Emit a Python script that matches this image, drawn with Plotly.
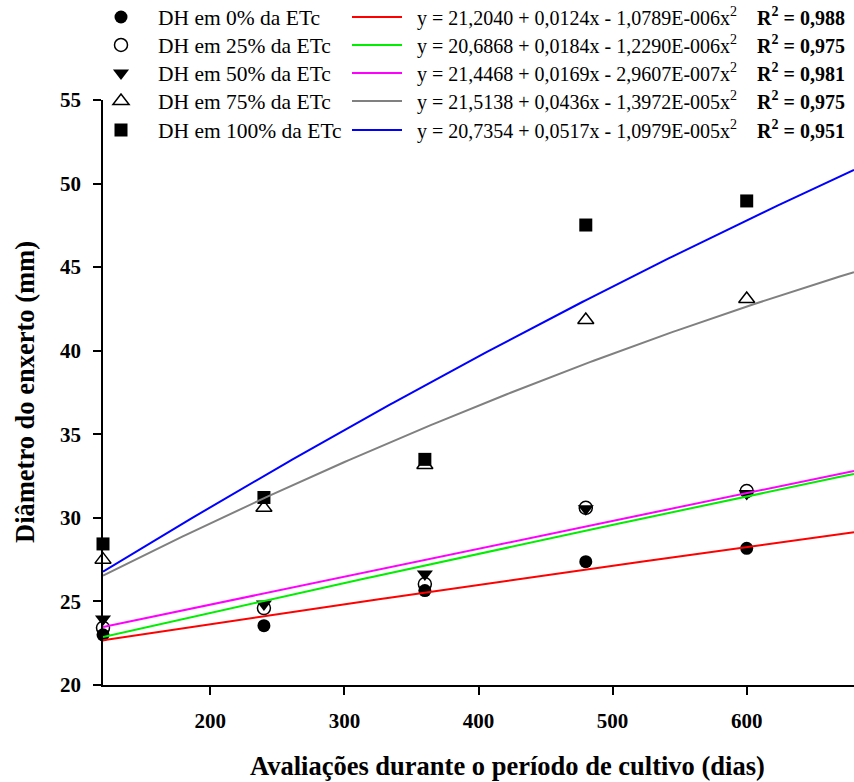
import numpy as np
import plotly.graph_objects as go

# ---- data ----
dias = [120, 240, 360, 480, 600]
series_names = ["DH em 0% da ETc", "DH em 25% da ETc", "DH em 50% da ETc",
                "DH em 75% da ETc", "DH em 100% da ETc"]
dh_0 = [23.00, 23.55, 25.65, 27.38, 28.18]
dh_25 = [23.42, 24.60, 26.04, 30.60, 31.60]
dh_50 = [23.95, 24.85, 26.64, 30.55, 31.45]
dh_75 = [27.50, 30.60, 33.16, 41.84, 43.09]
dh_100 = [28.44, 31.22, 33.50, 47.52, 48.96]
series_values = [dh_0, dh_25, dh_50, dh_75, dh_100]

# fitted regression coefficients printed on the chart (y = a + b x + c x^2)
coef_a = [21.2040, 20.6868, 21.4468, 21.5138, 20.7354]
coef_b = [0.0124, 0.0184, 0.0169, 0.0436, 0.0517]
coef_c = [-1.0789e-6, -1.2290e-6, -2.9607e-7, -1.3972e-5, -1.0979e-5]
eq_labels = [
    "y = 21,2040 + 0,0124x - 1,0789E-006x<sup>2</sup>",
    "y = 20,6868 + 0,0184x - 1,2290E-006x<sup>2</sup>",
    "y = 21,4468 + 0,0169x - 2,9607E-007x<sup>2</sup>",
    "y = 21,5138 + 0,0436x - 1,3972E-005x<sup>2</sup>",
    "y = 20,7354 + 0,0517x - 1,0979E-005x<sup>2</sup>",
]
r2_labels = ["0,988", "0,975", "0,981", "0,975", "0,951"]
x_ticks = [200, 300, 400, 500, 600]
y_ticks = [20, 25, 30, 35, 40, 45, 50, 55]
x_range = [120, 680]
y_range = [20, 55]

# ---- style ----
marker_symbols = ["circle", "circle-open", "triangle-down", "triangle-up-open", "square"]
line_colors = ["#ff0000", "#00ee00", "#ff00ff", "#808080", "#0000ff"]
FONT = "Liberation Serif"
legend_rows_px = [17, 45, 73, 101, 130]   # vertical centre of each legend row (pixels)

W, H = 854, 782
ML, MR, MT, MB = 103, 0, 100, 97
PW = W - ML - MR
PH = H - MT - MB


def px_to_paper_x(px):
    return (px - ML) / PW


def px_to_paper_y(py):
    return (H - MB - py) / PH


def legend_id(k):
    return "legend" if k == 1 else "legend%d" % k


fig = go.Figure()
legend_layouts = {}

for i, (name, vals) in enumerate(zip(series_names, series_values)):
    sym = marker_symbols[i]
    is_open = sym.endswith("open")
    lid = legend_id(i + 1)
    fig.add_trace(go.Scatter(
        x=dias, y=vals, mode="markers", name=name,
        legend=lid, showlegend=True,
        marker=dict(symbol=sym, size=13 if "triangle" not in sym else 14,
                    color="black",
                    line=dict(color="black", width=1.5 if is_open else 0)),
        cliponaxis=False,
    ))
    legend_layouts[lid] = dict(
        x=px_to_paper_x(84), y=px_to_paper_y(legend_rows_px[i]),
        xanchor="left", yanchor="middle",
        font=dict(family=FONT, size=21.5, color="black"), itemwidth=64,
        bgcolor="rgba(0,0,0,0)", borderwidth=0,
    )

xfit = np.linspace(x_range[0], x_range[1], 200)
for i in range(5):
    yfit = coef_a[i] + coef_b[i] * xfit + coef_c[i] * xfit ** 2
    lid = legend_id(i + 6)
    fig.add_trace(go.Scatter(
        x=xfit, y=yfit, mode="lines",
        name="\u00a0\u00a0" + eq_labels[i] + "\u00a0\u00a0\u00a0\u00a0<b>R<sup>2</sup> = " + r2_labels[i] + "</b>",
        legend=lid, showlegend=True,
        line=dict(color=line_colors[i], width=2),
    ))
    legend_layouts[lid] = dict(
        x=px_to_paper_x(347), y=px_to_paper_y(legend_rows_px[i]),
        xanchor="left", yanchor="middle",
        font=dict(family=FONT, size=20, color="black"), itemwidth=50,
        bgcolor="rgba(0,0,0,0)", borderwidth=0,
    )

axis_common = dict(
    showline=True, linecolor="black", linewidth=1.5,
    ticks="outside", ticklen=8, tickwidth=1.5, tickcolor="black",
    showgrid=False, zeroline=False,
    tickfont=dict(family=FONT, size=21, color="black", weight="bold"),
)

fig.update_layout(
    width=W, height=H,
    showlegend=True,
    margin=dict(l=ML, r=MR, t=MT, b=MB, autoexpand=False),
    paper_bgcolor="white", plot_bgcolor="white",
    font=dict(family=FONT, color="black"),
    xaxis=dict(range=x_range, tickvals=x_ticks, ticklabelstandoff=8, **axis_common),
    yaxis=dict(range=y_range, tickvals=y_ticks, ticklabelstandoff=8, **axis_common),
    annotations=[
        dict(text="<b>Avaliações durante o período de cultivo (dias)</b>",
             xref="paper", yref="paper", x=px_to_paper_x(507), y=px_to_paper_y(766),
             xanchor="center", yanchor="middle", showarrow=False,
             font=dict(family=FONT, size=26.5, color="black")),
        dict(text="<b>Diâmetro do enxerto (mm)</b>", textangle=-90,
             xref="paper", yref="paper", x=px_to_paper_x(25), y=px_to_paper_y(392),
             xanchor="center", yanchor="middle", showarrow=False,
             font=dict(family=FONT, size=26.5, color="black")),
    ],
    **legend_layouts,
)

fig.write_html("out.html")
